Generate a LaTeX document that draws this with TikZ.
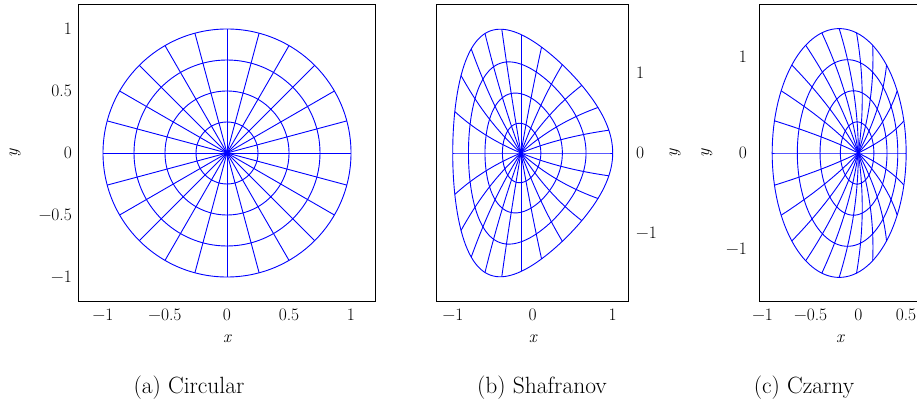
\documentclass[tikz,border=0pt]{standalone}
\usepackage{fontspec}
\begin{document}
\begin{tikzpicture}[x=1pt,y=-1pt]
\tikzset{
  meshline/.style={blue, line width=0.9pt, line join=round},
  axframe/.style={black, line width=0.9pt},
  ticklab/.style={font=\fontsize{17.5}{20}\selectfont, inner sep=0pt},
  caplab/.style={font=\fontsize{23.5}{28}\selectfont, inner sep=0pt, anchor=base},
}
\useasboundingbox (0,0) rectangle (917,403);

% ---------------- Panel (a): circular ----------------
\begin{scope}[shift={(227,153)}, x=124pt, y=124pt]
  \foreach \r in {0.25,0.5,0.75,1} {
    \draw[meshline] (0,0) circle[radius=\r];
  }
  \foreach \t in {0,15,...,345} {
    \draw[meshline] (0,0) -- (\t:1);
  }
\end{scope}
\draw[axframe] (78.2,4.2) rectangle (375.8,301.8);
\node[ticklab, anchor=base] (ax1) at (103,320.5) {−1};
\node[ticklab, anchor=base] (ax2) at (165,320.5) {−0.5};
\node[ticklab, anchor=base] (ax3) at (227,320.5) {0};
\node[ticklab, anchor=base] (ax4) at (289,320.5) {0.5};
\node[ticklab, anchor=base] (ax5) at (351,320.5) {1};
\node[ticklab, anchor=base east] (ay1) at (72,34.6) {1};
\node[ticklab, anchor=base east] (ay2) at (72,96.6) {0.5};
\node[ticklab, anchor=base east] (ay3) at (72,158.6) {0};
\node[ticklab, anchor=base east] (ay4) at (72,220.6) {−0.5};
\node[ticklab, anchor=base east] (ay5) at (72,282.6) {−1};
\node[ticklab, anchor=base] (axl) at (227,342.5) {\itshape x};
\node[ticklab, rotate=90] (ayl) at (15,153) {\itshape y};
\node[caplab] (capa) at (189,393) {(a) Circular};

% ---------------- Panel (b) ----------------
\begin{scope}[shift={(532.7,153)}, x=80pt, y=80pt]
  \foreach \r in {0.25,0.5,0.75,1} {
    \draw[meshline] plot[domain=0:360, samples=145, variable=\a]
      ({(1-sqrt(1+0.3*(0.3+2*\r*cos(\a))))/0.3},
       {1.41602*\r*sin(\a)/(2-sqrt(1+0.3*(0.3+2*\r*cos(\a))))}) -- cycle;
  }
  \foreach \t in {0,15,...,345} {
    \draw[meshline] plot[domain=0:1, samples=25, variable=\s]
      ({(1-sqrt(1+0.3*(0.3+2*\s*cos(\t))))/0.3},
       {1.41602*\s*sin(\t)/(2-sqrt(1+0.3*(0.3+2*\s*cos(\t))))});
  }
\end{scope}
\draw[axframe] (436.7,4.2) rectangle (628.7,301.8);
\node[ticklab, anchor=base] (bx1) at (453,320.5) {−1};
\node[ticklab, anchor=base] (bx2) at (532.7,320.5) {0};
\node[ticklab, anchor=base] (bx3) at (612.7,320.5) {1};
\node[ticklab, anchor=base west] (by1) at (636,78.6) {1};
\node[ticklab, anchor=base west] (by2) at (636,158.6) {0};
\node[ticklab, anchor=base west] (by3) at (636,238.6) {−1};
\node[ticklab, anchor=base] (bxl) at (532.7,342.5) {\itshape x};
\node[ticklab, rotate=90] (byl) at (675,153) {\itshape y};
\node[caplab] (capb) at (542,393) {(b) Shafranov};

% ---------------- Panel (c) ----------------
\begin{scope}[shift={(858.3,153)}, x=95.7pt, y=95.7pt]
  \foreach \r in {0.25,0.5,0.75,1} {
    \draw[meshline] plot[domain=0:360, samples=121, variable=\a]
      ({0.7*\r*cos(\a)-0.2*\r*\r}, {1.3*\r*sin(\a)}) -- cycle;
  }
  \foreach \t in {0,15,...,345} {
    \draw[meshline] plot[domain=0:1, samples=25, variable=\s]
      ({0.7*\s*cos(\t)-0.2*\s*\s}, {1.3*\s*sin(\t)});
  }
\end{scope}
\draw[axframe] (759.3,4.2) rectangle (921,301.8);
\node[ticklab, anchor=base] (cx1) at (762.7,320.5) {−1};
\node[ticklab, anchor=base] (cx2) at (810.7,320.5) {−0.5};
\node[ticklab, anchor=base] (cx3) at (858.3,320.5) {0};
\node[ticklab, anchor=base] (cx4) at (906,320.5) {0.5};
\node[ticklab, anchor=base east] (cy1) at (747,62.9) {1};
\node[ticklab, anchor=base east] (cy2) at (747,158.6) {0};
\node[ticklab, anchor=base east] (cy3) at (747,254.3) {−1};
\node[ticklab, anchor=base] (cxl) at (840,342.5) {\itshape x};
\node[ticklab, rotate=90] (cyl) at (706.7,153) {\itshape y};
\node[caplab] (capc) at (804,393) {(c) Czarny};
\end{tikzpicture}
\end{document}
